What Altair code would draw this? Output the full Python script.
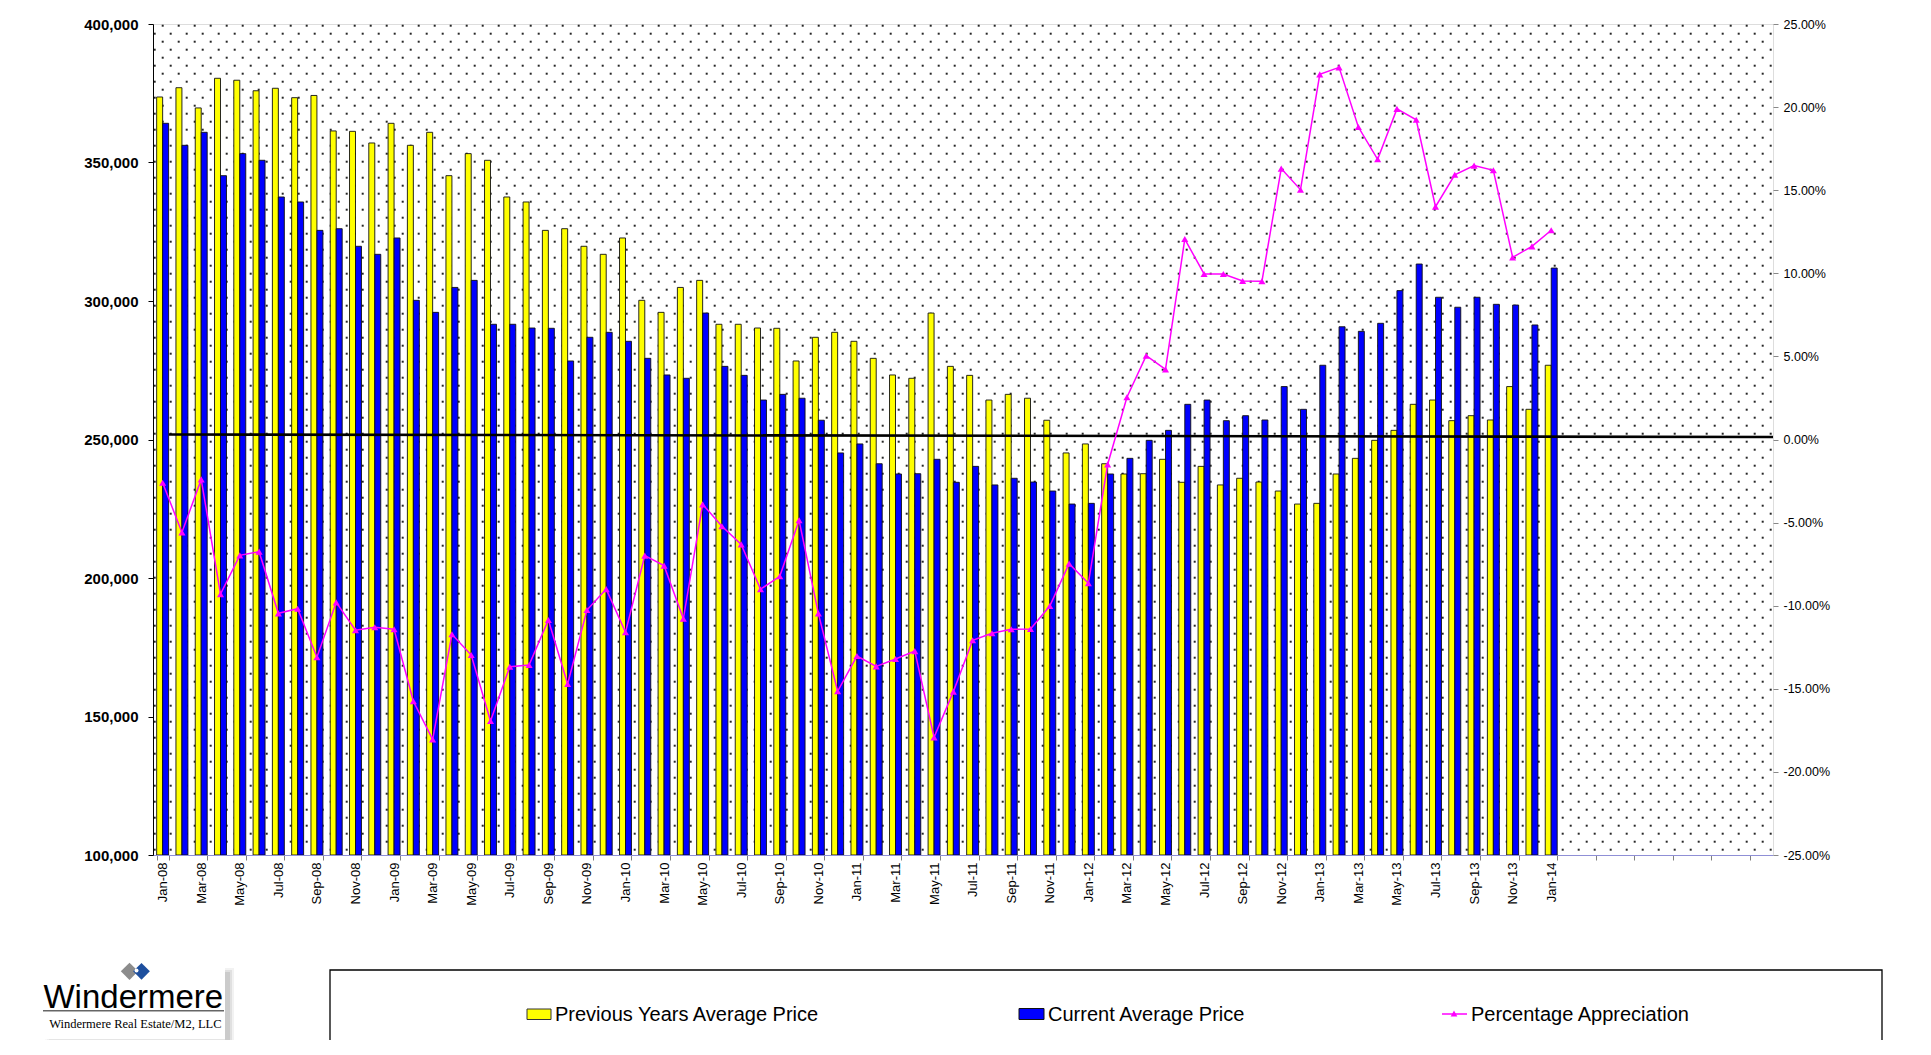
import altair as alt
import numpy as np
import pandas as pd

# ---------------- data ----------------
MONTH_NAMES = ["Jan", "Feb", "Mar", "Apr", "May", "Jun",
               "Jul", "Aug", "Sep", "Oct", "Nov", "Dec"]
ALL_MONTHS = [f"{m}-{y:02d}" for y in range(8, 15) for m in MONTH_NAMES]  # axis runs to Dec-14
MONTHS = ALL_MONTHS[:73]  # Jan-08 .. Jan-14

SERIES = ["Previous Years Average Price", "Current Average Price"]
LINE_NAME = "Percentage Appreciation"

PREV = [373650, 377000, 369700, 380400, 379700, 375900, 376800, 373400, 374200, 361400, 361250, 357050,
        364150, 356200, 360900, 345250, 353200, 350800, 337550, 335750, 325500, 326100, 319750, 316850,
        322750, 300250, 295900, 304900, 307450, 291600, 291600, 290250, 290150, 278350, 286900, 288700,
        285450, 279300, 273300, 272100, 295650, 276400, 273150, 264250, 266300, 264900, 256950, 245150,
        248400, 241250, 237550, 237650, 242850, 234550, 240300, 233600, 236000, 234650, 231400, 226700,
        226950, 237550, 243200, 249700, 253300, 262700, 264250, 256800, 258600, 257050, 269100, 260900,
        276800]

CURR = [364150, 356200, 360900, 345250, 353200, 350800, 337550, 335750, 325500, 326100, 319750, 316850,
        322750, 300250, 295900, 304900, 307450, 291600, 291600, 290250, 290150, 278350, 286900, 288700,
        285450, 279300, 273300, 272100, 295650, 276400, 273150, 264250, 266300, 264900, 256950, 245150,
        248400, 241250, 237550, 237650, 242850, 234550, 240300, 233600, 236000, 234650, 231400, 226700,
        226950, 237550, 243200, 249700, 253300, 262700, 264250, 256800, 258600, 257050, 269100, 260900,
        276800, 290700, 289050, 291950, 303750, 313350, 301350, 297750, 301350, 298800, 298550, 291350,
        311900]

PCT = [-0.0260, -0.0559, -0.0240, -0.0930, -0.0697, -0.0675, -0.1046, -0.1018, -0.1310, -0.0980, -0.1148, -0.1130,
       -0.1142, -0.1575, -0.1804, -0.1172, -0.1297, -0.1694, -0.1367, -0.1357, -0.1086, -0.1471, -0.1026, -0.0900,
       -0.1160, -0.0699, -0.0759, -0.1078, -0.0390, -0.0522, -0.0631, -0.0901, -0.0823, -0.0486, -0.1046, -0.1515,
       -0.1303, -0.1365, -0.1321, -0.1273, -0.1792, -0.1517, -0.1208, -0.1166, -0.1142, -0.1140, -0.1002, -0.0747,
       -0.0865, -0.0150, 0.0254, 0.0504, 0.0422, 0.1206, 0.0996, 0.0996, 0.0954, 0.0952, 0.1630, 0.1503,
       0.2197, 0.2239, 0.1880, 0.1686, 0.1989, 0.1924, 0.1401, 0.1593, 0.1648, 0.1620, 0.1096, 0.1162,
       0.1259]

LEFT_TICKS = [100000, 150000, 200000, 250000, 300000, 350000, 400000]
RIGHT_TICKS = [-0.25, -0.20, -0.15, -0.10, -0.05, 0.0, 0.05, 0.10, 0.15, 0.20, 0.25]
X_TICKS = ALL_MONTHS[::2]
HIDDEN_LABELS = [m for m in X_TICKS if m not in MONTHS]

LOGO_TITLE = "Windermere"
LOGO_SUB = "Windermere Real Estate/M2, LLC"

# ---------------- layout ----------------
W, H = 1620, 831
FONT = "Liberation Sans"

bars_df = pd.DataFrame({
    "month": MONTHS * 2,
    "series": [SERIES[0]] * len(MONTHS) + [SERIES[1]] * len(MONTHS),
    "price": PREV + CURR,
})
line_df = pd.DataFrame({"month": MONTHS, "pct": PCT})
one = pd.DataFrame({"k": [0]})

# dotted plot-area texture (Excel "dotted" fill)
gx, gy = np.meshgrid(np.arange(0, W // 8 + 1), np.arange(0, H // 8 + 1))
mask = ((gx + gy) % 2 == 1) & (gx * 8 + 2 < W) & (gy * 8 + 2 < H)
dots_df = pd.DataFrame({"px": (gx[mask] * 8 + 1.7).ravel(), "py": (gy[mask] * 8 + 1.7).ravel()})

dots = alt.Chart(dots_df).mark_square(size=4, color="#000", opacity=0.85).encode(
    x=alt.X("px:Q", scale=alt.Scale(domain=[0, W], nice=False, zero=False), axis=None),
    y=alt.Y("py:Q", scale=alt.Scale(domain=[0, H], nice=False, zero=False, reverse=True), axis=None),
)

label_expr = "indexof(" + str(HIDDEN_LABELS) + ", datum.value) >= 0 ? '' : datum.label"

bars = alt.Chart(bars_df).mark_bar(stroke="#111", strokeWidth=0.9, clip=True).encode(
    x=alt.X("month:N", title=None,
            scale=alt.Scale(domain=ALL_MONTHS, paddingInner=0.38, paddingOuter=0.19),
            axis=alt.Axis(values=X_TICKS, labelExpr=label_expr, tickBand="extent",
                          labelAngle=-90, labelFontSize=13, labelPadding=2, labelOverlap=False,
                          tickSize=5, tickColor="#808080", domainColor="#8f8fd6", grid=False,
                          labelFont=FONT, labelColor="black")),
    xOffset=alt.XOffset("series:N", scale=alt.Scale(domain=SERIES, paddingInner=0, paddingOuter=0)),
    y=alt.Y("price:Q", title=None,
            scale=alt.Scale(domain=[100000, 400000], nice=False, zero=False),
            axis=alt.Axis(orient="left", values=LEFT_TICKS, format=",d", labelFontSize=15,
                          labelFontWeight="bold", labelPadding=10, tickSize=5, tickColor="black",
                          domainColor="black", grid=False, labelFont=FONT, labelColor="black")),
    y2=alt.Y2(datum=100000),
    color=alt.Color("series:N", scale=alt.Scale(domain=SERIES, range=["#FFFF00", "#0000FF"]), legend=None),
)

zero_rule = alt.Chart(one).mark_rule(color="black", strokeWidth=2.6).encode(
    x=alt.value(16), x2=alt.value(W), y=alt.value(410.5), y2=alt.value(413)
)

line = alt.Chart(line_df).mark_line(
    color="#FF00FF", strokeWidth=1.5,
    point=alt.OverlayMarkDef(shape="triangle-up", size=50, filled=True, color="#FF00FF"),
).encode(
    x=alt.X("month:N", scale=alt.Scale(domain=ALL_MONTHS, padding=0.5), axis=None),
    y=alt.Y("pct:Q", title=None,
            scale=alt.Scale(domain=[-0.25, 0.25], nice=False, zero=False),
            axis=alt.Axis(orient="right", values=RIGHT_TICKS, format=".2%",
                          labelExpr="replace(datum.label, '\u2212', '-')",
                          labelFontSize=12.5, labelPadding=5, tickSize=5, tickColor="#888",
                          domain=False, grid=False, labelFont=FONT, labelColor="black")),
)

# ---------------- legend (custom box under the chart) ----------------
legend_box = alt.Chart(one).mark_rect(fill="white", fillOpacity=0, stroke="black", strokeWidth=1.3).encode(
    x=alt.value(177), x2=alt.value(1729), y=alt.value(946), y2=alt.value(1200)
)
sw_prev = alt.Chart(one).mark_rect(fill="#FFFF00", stroke="#333", strokeWidth=1).encode(
    x=alt.value(374), x2=alt.value(398), y=alt.value(985), y2=alt.value(995.5)
)
sw_curr = alt.Chart(one).mark_rect(fill="#0000FF", stroke="#111", strokeWidth=1).encode(
    x=alt.value(866), x2=alt.value(891), y=alt.value(984.5), y2=alt.value(995.5)
)
sw_line = alt.Chart(one).mark_rule(color="#FF00FF", strokeWidth=1.5).encode(
    x=alt.value(1289), x2=alt.value(1314), y=alt.value(990)
)
sw_pt = alt.Chart(one).mark_point(shape="triangle-up", size=45, filled=True, color="#FF00FF", opacity=1).encode(
    x=alt.value(1301), y=alt.value(989.5)
)


def legend_text(txt, x):
    return alt.Chart(one).mark_text(text=txt, align="left", baseline="alphabetic", fontSize=20,
                                    font=FONT, color="black").encode(x=alt.value(x), y=alt.value(996.7))


lt1 = legend_text(SERIES[0], 402)
lt2 = legend_text(SERIES[1], 895)
lt3 = legend_text(LINE_NAME, 1318)

# ---------------- logo ----------------
shadows = [
    alt.Chart(one).mark_rect(fill="#000", opacity=op).encode(
        x=alt.value(x0), x2=alt.value(x1), y=alt.value(y0), y2=alt.value(y1))
    for (x0, x1, y0, y1, op) in [(-108, 81, 944, 1032, 0.05), (-106, 79, 946, 1029, 0.07),
                                 (-104, 77, 948, 1026, 0.09)]
]
logo_box = alt.Chart(one).mark_rect(fill="white").encode(
    x=alt.value(-112), x2=alt.value(72), y=alt.value(939.5), y2=alt.value(1015.5)
)
logo_d1 = alt.Chart(one).mark_point(shape="diamond", size=300, filled=True, color="#8c8c8c", opacity=1).encode(
    x=alt.value(-23.5), y=alt.value(947.3)
)
logo_d2 = alt.Chart(one).mark_point(shape="diamond", size=280, filled=True, color="#1d4f9e", opacity=1).encode(
    x=alt.value(-11.5), y=alt.value(947.3)
)
logo_dot = alt.Chart(one).mark_point(shape="circle", size=16, filled=True, color="white", opacity=1).encode(
    x=alt.value(-16.5), y=alt.value(946.5)
)
logo_title = alt.Chart(one).mark_text(text=LOGO_TITLE, align="center", baseline="alphabetic", fontSize=33,
                                      font=FONT, color="black").encode(x=alt.value(-19.7), y=alt.value(984.3))
logo_line = alt.Chart(one).mark_rule(color="#666", strokeWidth=1.5).encode(
    x=alt.value(-110), x2=alt.value(71), y=alt.value(986.7)
)
logo_sub = alt.Chart(one).mark_text(text=LOGO_SUB, align="center", baseline="alphabetic", fontSize=12.5,
                                    font="Liberation Serif", color="black").encode(
    x=alt.value(-17.7), y=alt.value(1004.3))

chart = alt.layer(
    dots, bars, zero_rule, line,
    legend_box, sw_prev, sw_curr, sw_line, sw_pt, lt1, lt2, lt3,
    *shadows, logo_box, logo_d1, logo_d2, logo_dot, logo_title, logo_line, logo_sub,
).resolve_scale(
    x="independent", y="independent"
).properties(
    width=W, height=H,
    autosize=alt.AutoSizeParams(type="none"),
    padding={"left": 145, "top": 16, "right": 140, "bottom": 185},
    background="white",
).configure_view(
    stroke="#6a6af0", strokeWidth=1
).configure(
    font=FONT
)

chart.save("out.html", embed_options={"renderer": "svg", "actions": False})
